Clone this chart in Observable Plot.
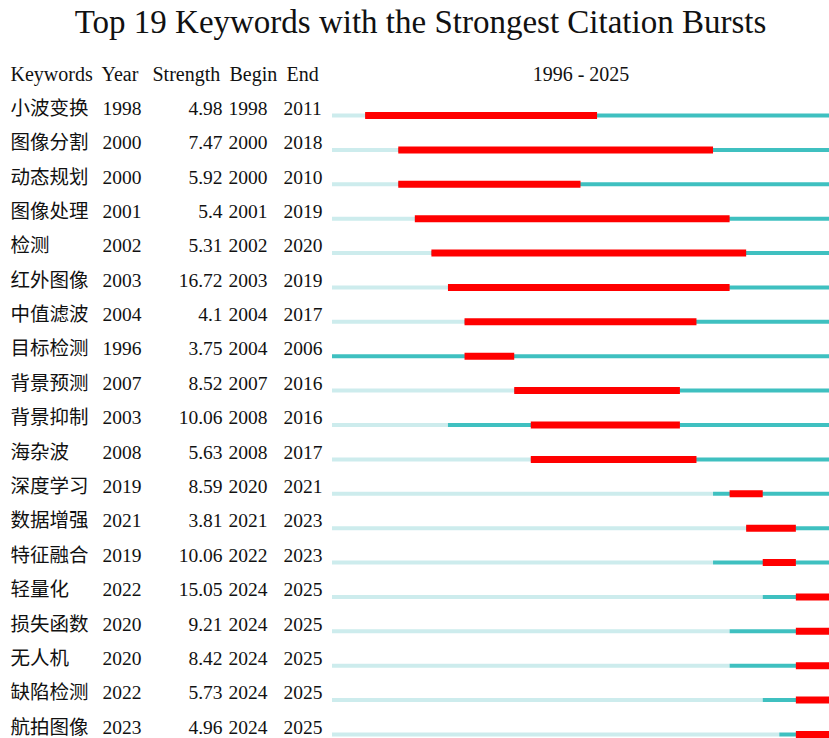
<!DOCTYPE html>
<html>
<head>
<meta charset="utf-8">
<script src="https://cdn.jsdelivr.net/npm/d3@7"></script>
<script src="https://cdn.jsdelivr.net/npm/@observablehq/plot@0.6"></script>
<style>
  html, body { margin: 0; padding: 0; background: #fff; }
  #title { height: 44px; line-height: 44px; text-align: center; padding-left: 12px; font-family: "Liberation Serif", "Noto Sans CJK SC", serif; font-size: 33px; color: #111; white-space: nowrap; }
  #chart svg { display: block; }
</style>
</head>
<body>
<div id="title">Top 19 Keywords with the Strongest Citation Bursts</div>
<div id="chart"></div>
<script>
const keywords = ["小波变换","图像分割","动态规划","图像处理","检测","红外图像","中值滤波","目标检测","背景预测","背景抑制","海杂波","深度学习","数据增强","特征融合","轻量化","损失函数","无人机","缺陷检测","航拍图像"];
const years    = [1998,2000,2000,2001,2002,2003,2004,1996,2007,2003,2008,2019,2021,2019,2022,2020,2020,2022,2023];
const strength = ["4.98","7.47","5.92","5.4","5.31","16.72","4.1","3.75","8.52","10.06","5.63","8.59","3.81","10.06","15.05","9.21","8.42","5.73","4.96"];
const begins   = [1998,2000,2000,2001,2002,2003,2004,2004,2007,2008,2008,2020,2021,2022,2024,2024,2024,2024,2024];
const ends     = [2011,2018,2010,2019,2020,2019,2017,2006,2016,2016,2017,2021,2023,2023,2025,2025,2025,2025,2025];
const headers  = ["Keywords","Year","Strength","Begin","End"];
const startYear = 1996, endYear = 2025;

const rows = keywords.map((k, i) => ({k, year: years[i], strength: strength[i], begin: begins[i], end: ends[i]}));
const font = "'Liberation Serif', 'Noto Sans CJK SC', serif";
const textOpts = {y: "k", fontSize: 19.5, fill: "#111", frameAnchor: "left", lineAnchor: "middle", dy: -7, fontFamily: font};
const headOpts = {frameAnchor: "top-left", lineAnchor: "middle", dy: -41, fontSize: 20, fill: "#111", fontFamily: font};

const plot = Plot.plot({
  width: 829,
  height: 694,
  marginLeft: 332,
  marginRight: 0,
  marginTop: 71,
  marginBottom: 0,
  x: {domain: [startYear, endYear + 1], axis: null},
  y: {type: "point", domain: keywords, padding: 0, round: false, range: [71, 690], axis: null},
  style: {fontFamily: font, background: "#fff"},
  marks: [
    Plot.ruleY(rows, {y: "k", x1: startYear, x2: "year", stroke: "#cdeced", strokeWidth: 4}),
    Plot.ruleY(rows, {y: "k", x1: "year", x2: endYear + 1, stroke: "#3fc0c0", strokeWidth: 4}),
    Plot.ruleY(rows, {y: "k", x1: "begin", x2: d => d.end + 1, stroke: "#ff0000", strokeWidth: 7}),
    Plot.text(rows, {...textOpts, text: "k", dx: -322, textAnchor: "start"}),
    Plot.text(rows, {...textOpts, text: d => String(d.year), dx: -230, textAnchor: "start"}),
    Plot.text(rows, {...textOpts, text: "strength", dx: -110, textAnchor: "end"}),
    Plot.text(rows, {...textOpts, text: d => String(d.begin), dx: -104, textAnchor: "start"}),
    Plot.text(rows, {...textOpts, text: d => String(d.end), dx: -49, textAnchor: "start"}),
    Plot.text([headers[0]], {...headOpts, text: d => d, dx: -322, textAnchor: "start"}),
    Plot.text([headers[1]], {...headOpts, text: d => d, dx: -231, textAnchor: "start"}),
    Plot.text([headers[2]], {...headOpts, text: d => d, dx: -180, textAnchor: "start"}),
    Plot.text([headers[3]], {...headOpts, text: d => d, dx: -103, textAnchor: "start"}),
    Plot.text([headers[4]], {...headOpts, text: d => d, dx: -46, textAnchor: "start"}),
    Plot.text([`${startYear} - ${endYear}`], {text: d => d, frameAnchor: "top", lineAnchor: "middle", dy: -41, fontSize: 20, fill: "#111", fontFamily: font})
  ]
});
document.getElementById("chart").appendChild(plot);
</script>
</body>
</html>
